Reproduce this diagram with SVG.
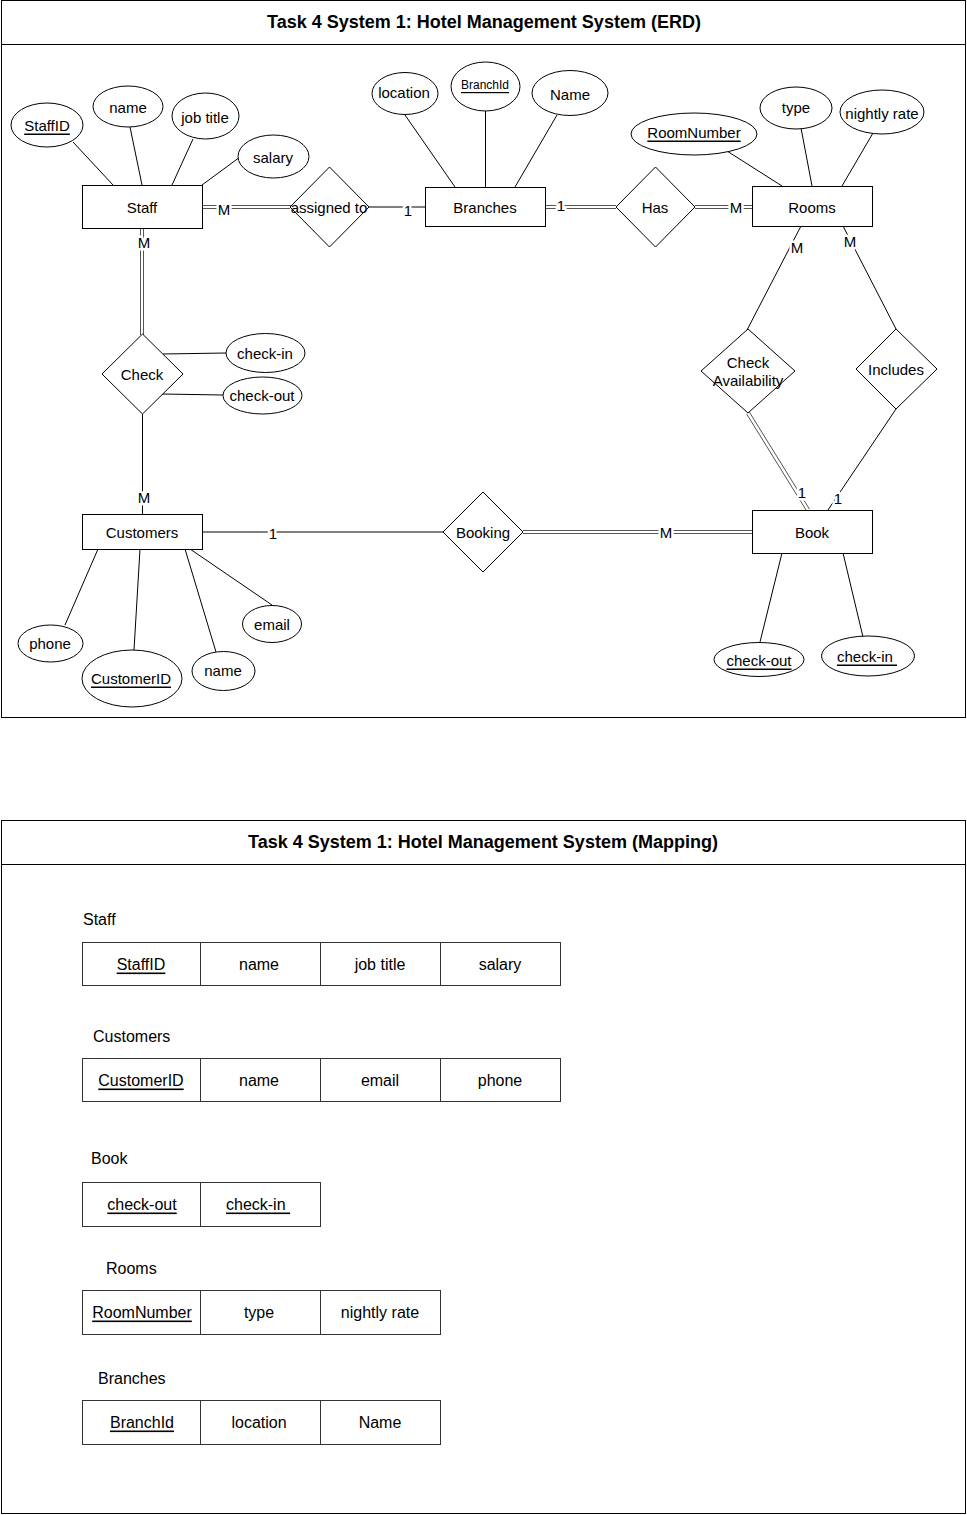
<svg xmlns="http://www.w3.org/2000/svg" width="967" height="1515" viewBox="0 0 967 1515">
<style>
text{font-family:"Liberation Sans",Arial,sans-serif;font-size:15px;fill:#000;text-anchor:middle;dominant-baseline:central}
.title{font-weight:bold;font-size:18px}
.frame{fill:#fff;stroke:#000;stroke-width:1}
.ent{fill:#fff;stroke:#000;stroke-width:1}
.attr{fill:#fff;stroke:#000;stroke-width:1}
.rel{fill:#fff;stroke:#000;stroke-width:1}
.ln{stroke:#000;stroke-width:1;fill:none}
.dl{stroke:#555;stroke-width:1;fill:none}
.cl{paint-order:stroke;stroke:#fff;stroke-width:5px;stroke-linejoin:round}
.u{text-decoration:underline}
.cell{fill:#fff;stroke:#333;stroke-width:1}
.mt{font-size:16px}
.ml{font-size:16px;text-anchor:start}
</style>

<!-- ERD frame -->
<g id="erd-frame">
<rect class="frame" x="1.5" y="0.5" width="964" height="717"/>
<line class="ln" x1="1.5" y1="44.5" x2="965.5" y2="44.5"/>
<text class="title" x="484" y="22">Task 4 System 1: Hotel Management System (ERD)</text>
</g>

<!-- connectors -->
<g id="connectors">
<!-- attribute lines -->
<line class="ln" x1="73" y1="142" x2="113" y2="185"/>
<line class="ln" x1="130" y1="127" x2="142" y2="185"/>
<line class="ln" x1="193" y1="139" x2="172" y2="185"/>
<line class="ln" x1="240" y1="157" x2="202" y2="185"/>
<line class="ln" x1="405" y1="115" x2="455" y2="187"/>
<line class="ln" x1="485.5" y1="110" x2="485.5" y2="187"/>
<line class="ln" x1="557" y1="115" x2="515" y2="187"/>
<line class="ln" x1="727" y1="151" x2="782" y2="186"/>
<line class="ln" x1="801" y1="128" x2="812" y2="186"/>
<line class="ln" x1="873" y1="133" x2="842" y2="186"/>
<line class="ln" x1="163" y1="354" x2="226" y2="353"/>
<line class="ln" x1="162" y1="394" x2="223" y2="395"/>
<line class="ln" x1="65" y1="625" x2="98" y2="549"/>
<line class="ln" x1="134" y1="650" x2="140" y2="549"/>
<line class="ln" x1="216" y1="652" x2="185" y2="549"/>
<line class="ln" x1="272" y1="605" x2="190" y2="549"/>
<line class="ln" x1="782" y1="553" x2="760" y2="642"/>
<line class="ln" x1="843" y1="553" x2="863" y2="637"/>

<!-- relationships -->
<line class="dl" x1="202" y1="205.5" x2="291" y2="205.5"/>
<line class="dl" x1="202" y1="208.5" x2="290" y2="208.5"/>
<line class="ln" x1="369" y1="207" x2="425" y2="207"/>
<line class="dl" x1="546" y1="205.5" x2="616" y2="205.5"/>
<line class="dl" x1="546" y1="208.5" x2="616" y2="208.5"/>
<line class="dl" x1="695" y1="205.5" x2="752" y2="205.5"/>
<line class="dl" x1="695" y1="208.5" x2="752" y2="208.5"/>
<line class="dl" x1="140.5" y1="228" x2="140.5" y2="335"/>
<line class="dl" x1="143.5" y1="228" x2="143.5" y2="335"/>
<line class="ln" x1="142.5" y1="414" x2="142.5" y2="514"/>
<line class="ln" x1="202" y1="532" x2="443" y2="532"/>
<line class="dl" x1="523" y1="530.5" x2="752" y2="530.5"/>
<line class="dl" x1="523" y1="533.5" x2="752" y2="533.5"/>
<line class="ln" x1="801" y1="226" x2="747" y2="330"/>
<line class="ln" x1="843" y1="226" x2="896" y2="329"/>
<line class="dl" x1="746.6" y1="413.9" x2="806.6" y2="510.9"/>
<line class="dl" x1="749.4" y1="412.1" x2="809.4" y2="509.1"/>
<line class="ln" x1="896" y1="409" x2="828" y2="510"/>

<!-- cardinality labels -->
<text class="cl" x="224" y="209">M</text>
<text class="cl" x="408" y="210">1</text>
<text class="cl" x="561" y="205">1</text>
<text class="cl" x="736" y="207">M</text>
<text class="cl" x="144" y="242">M</text>
<text class="cl" x="144" y="497">M</text>
<text class="cl" x="273" y="533">1</text>
<text class="cl" x="666" y="532">M</text>
<text class="cl" x="797" y="247">M</text>
<text class="cl" x="850" y="241">M</text>
<text class="cl" x="802" y="492">1</text>
<text class="cl" x="838" y="498">1</text>
</g>

<!-- entities -->
<g id="staff"><rect class="ent" x="82.5" y="185.5" width="120" height="43"/><text x="142" y="207">Staff</text></g>
<g id="branches"><rect class="ent" x="425.5" y="187.5" width="120" height="39"/><text x="485" y="207">Branches</text></g>
<g id="rooms"><rect class="ent" x="752.5" y="186.5" width="120" height="40"/><text x="812" y="207">Rooms</text></g>
<g id="customers"><rect class="ent" x="82.5" y="514.5" width="120" height="35"/><text x="142" y="532">Customers</text></g>
<g id="book"><rect class="ent" x="752.5" y="510.5" width="120" height="43"/><text x="812" y="532">Book</text></g>

<!-- relationships -->
<g id="assigned-to"><polygon class="rel" points="329.5,167 369,207 329.5,247 290,207"/><text x="329" y="207">assigned to</text></g>
<g id="has"><polygon class="rel" points="655.5,167 695,207 655.5,247 616,207"/><text x="655" y="207">Has</text></g>
<g id="check"><polygon class="rel" points="142.5,334 183,374 142.5,414 102,374"/><text x="142" y="374">Check</text></g>
<g id="booking"><polygon class="rel" points="483,492 523,532 483,572 443,532"/><text x="483" y="532">Booking</text></g>
<g id="check-availability"><polygon class="rel" points="748,329 795,371 748,413 701,371"/><text x="748" y="362">Check</text><text x="748" y="380">Availability</text></g>
<g id="includes"><polygon class="rel" points="896,329 937,369 896,409 856,369"/><text x="896" y="369">Includes</text></g>

<!-- attributes -->
<g id="attr-staffid"><ellipse class="attr" cx="47" cy="125" rx="36" ry="22"/><text class="u" x="47" y="125">StaffID</text></g>
<g id="attr-staff-name"><ellipse class="attr" cx="128" cy="106.5" rx="35" ry="20.5"/><text x="128" y="107">name</text></g>
<g id="attr-jobtitle"><ellipse class="attr" cx="205.5" cy="116" rx="33.5" ry="23"/><text x="205" y="117">job title</text></g>
<g id="attr-salary"><ellipse class="attr" cx="273.5" cy="156.5" rx="35.5" ry="21.5"/><text x="273" y="157">salary</text></g>
<g id="attr-location"><ellipse class="attr" cx="405" cy="93.5" rx="33" ry="21"/><text x="404" y="92">location</text></g>
<g id="attr-branchid"><ellipse class="attr" cx="485.5" cy="86.5" rx="34.5" ry="24.5"/><text class="u" x="485" y="85" style="font-size:12px">BranchId</text></g>
<g id="attr-branch-name"><ellipse class="attr" cx="570" cy="93" rx="38" ry="22.5"/><text x="570" y="94">Name</text></g>
<g id="attr-roomnumber"><ellipse class="attr" cx="694" cy="134" rx="63" ry="21"/><text class="u" x="694" y="132">RoomNumber</text></g>
<g id="attr-type"><ellipse class="attr" cx="796" cy="108" rx="36" ry="21"/><text x="796" y="107">type</text></g>
<g id="attr-nightlyrate"><ellipse class="attr" cx="882" cy="112" rx="42" ry="22"/><text x="882" y="113">nightly rate</text></g>
<g id="attr-check-in"><ellipse class="attr" cx="265.5" cy="353" rx="39.5" ry="19.5"/><text x="265" y="353">check-in</text></g>
<g id="attr-check-out"><ellipse class="attr" cx="262.5" cy="395.5" rx="39.5" ry="18.5"/><text x="262" y="395">check-out</text></g>
<g id="attr-phone"><ellipse class="attr" cx="50.5" cy="643.5" rx="32.5" ry="18.5"/><text x="50" y="643">phone</text></g>
<g id="attr-customerid"><ellipse class="attr" cx="132" cy="678.5" rx="50" ry="28.5"/><text class="u" x="131" y="678">CustomerID</text></g>
<g id="attr-cust-name"><ellipse class="attr" cx="223.5" cy="671" rx="31.5" ry="19.5"/><text x="223" y="670">name</text></g>
<g id="attr-email"><ellipse class="attr" cx="272" cy="624" rx="29.5" ry="18.5"/><text x="272" y="624">email</text></g>
<g id="attr-book-checkout"><ellipse class="attr" cx="759" cy="659.5" rx="45" ry="17"/><text class="u" x="759" y="660">check-out</text></g>
<g id="attr-book-checkin"><ellipse class="attr" cx="868" cy="656" rx="46.5" ry="20"/><text class="u" x="867" y="656" style="white-space:pre">check-in </text></g>

<!-- Mapping frame -->
<g id="mapping-frame">
<rect class="frame" x="1.5" y="820.5" width="964" height="693"/>
<line class="ln" x1="1.5" y1="864.5" x2="965.5" y2="864.5"/>
<text class="title" x="483" y="842">Task 4 System 1: Hotel Management System (Mapping)</text>
</g>

<g id="table-staff">
<text class="ml" x="83" y="919">Staff</text>
<rect class="cell" x="82.5" y="942.5" width="118" height="43"/>
<rect class="cell" x="200.5" y="942.5" width="120" height="43"/>
<rect class="cell" x="320.5" y="942.5" width="120" height="43"/>
<rect class="cell" x="440.5" y="942.5" width="120" height="43"/>
<text class="mt u" x="141" y="964">StaffID</text>
<text class="mt" x="259" y="964">name</text>
<text class="mt" x="380" y="964">job title</text>
<text class="mt" x="500" y="964">salary</text>
</g>

<g id="table-customers">
<text class="ml" x="93" y="1036">Customers</text>
<rect class="cell" x="82.5" y="1058.5" width="118" height="43"/>
<rect class="cell" x="200.5" y="1058.5" width="120" height="43"/>
<rect class="cell" x="320.5" y="1058.5" width="120" height="43"/>
<rect class="cell" x="440.5" y="1058.5" width="120" height="43"/>
<text class="mt u" x="141" y="1080">CustomerID</text>
<text class="mt" x="259" y="1080">name</text>
<text class="mt" x="380" y="1080">email</text>
<text class="mt" x="500" y="1080">phone</text>
</g>

<g id="table-book">
<text class="ml" x="91" y="1158">Book</text>
<rect class="cell" x="82.5" y="1182.5" width="118" height="44"/>
<rect class="cell" x="200.5" y="1182.5" width="120" height="44"/>
<text class="mt u" x="142" y="1204">check-out</text>
<text class="mt u" x="258" y="1204" style="white-space:pre">check-in </text>
</g>

<g id="table-rooms">
<text class="ml" x="106" y="1268">Rooms</text>
<rect class="cell" x="82.5" y="1290.5" width="118" height="44"/>
<rect class="cell" x="200.5" y="1290.5" width="120" height="44"/>
<rect class="cell" x="320.5" y="1290.5" width="120" height="44"/>
<text class="mt u" x="142" y="1312">RoomNumber</text>
<text class="mt" x="259" y="1312">type</text>
<text class="mt" x="380" y="1312">nightly rate</text>
</g>

<g id="table-branches">
<text class="ml" x="98" y="1378">Branches</text>
<rect class="cell" x="82.5" y="1400.5" width="118" height="44"/>
<rect class="cell" x="200.5" y="1400.5" width="120" height="44"/>
<rect class="cell" x="320.5" y="1400.5" width="120" height="44"/>
<text class="mt u" x="142" y="1422">BranchId</text>
<text class="mt" x="259" y="1422">location</text>
<text class="mt" x="380" y="1422">Name</text>
</g>
</svg>
